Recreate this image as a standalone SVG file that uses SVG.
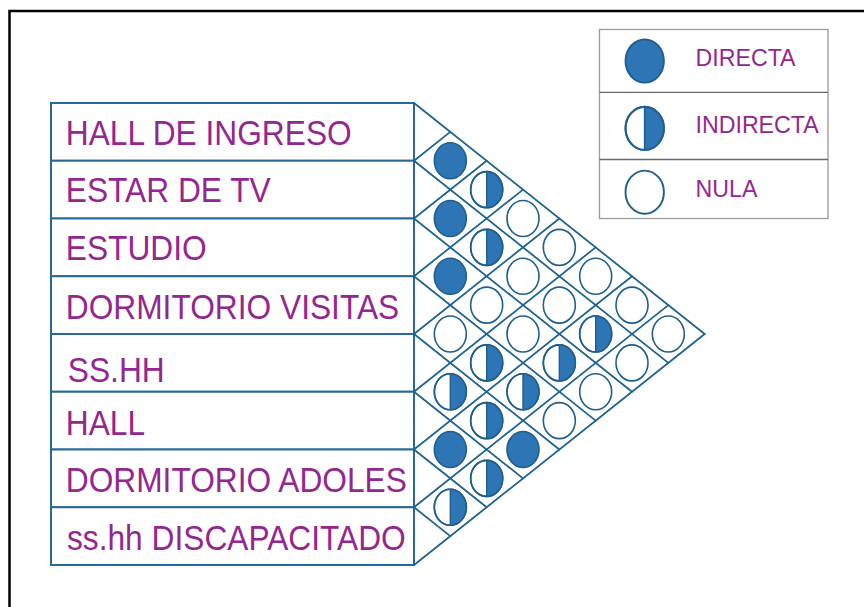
<svg xmlns="http://www.w3.org/2000/svg" xmlns:xlink="http://www.w3.org/1999/xlink" width="864" height="607" viewBox="0 0 864 607">
<style>
.frame{fill:none;stroke:#000;stroke-width:2.5}
.row rect{fill:#fff;stroke:#2a6896;stroke-width:2}
.lbl{font-family:"Liberation Sans",Arial,sans-serif;font-size:31.7px;fill:#93278f}
.leg{font-family:"Liberation Sans",Arial,sans-serif;font-size:23.2px;fill:#93278f}
.grid line{stroke:#1f6391;stroke-width:1.8;stroke-linecap:round}
.legbox{fill:#fff;stroke:#9a9a9a;stroke-width:1.3}
.c-out{fill:#fff;stroke:#1f5f8e;stroke-width:1.6}
.c-fill{fill:#2e75b6;stroke:#1f5f8e;stroke-width:1.6}
.c-half{fill:#2e75b6;stroke:none}
.c-mid{stroke:#1f5f8e;stroke-width:1.4}
</style>
<defs>
<g id="full"><ellipse class="c-fill" cx="0" cy="0" rx="16" ry="18"/></g>
<g id="half"><ellipse class="c-out" cx="0" cy="0" rx="16" ry="18"/><path class="c-half" d="M0,-18 A16,18 0 0 1 0,18 Z"/><ellipse cx="0" cy="0" rx="16" ry="18" fill="none" stroke="#1f5f8e" stroke-width="1.6"/><line class="c-mid" x1="0" y1="-18" x2="0" y2="18"/></g>
<g id="none"><ellipse class="c-out" cx="0" cy="0" rx="16" ry="18"/></g>
</defs>
<path class="frame" d="M9.5,607 V11 H870"/>
<g id="legend">
<rect class="legbox" x="599.5" y="29.5" width="228.5" height="189"/>
<line x1="599.5" y1="92.3" x2="828" y2="92.3" stroke="#6a6a6a" stroke-width="1.3"/>
<line x1="599.5" y1="159.5" x2="828" y2="159.5" stroke="#6a6a6a" stroke-width="1.3"/>
<use xlink:href="#full" transform="translate(644.7,61) scale(1.2)"/>
<use xlink:href="#half" transform="translate(644.7,128.3) scale(1.2)"/>
<use xlink:href="#none" transform="translate(644.7,192.2) scale(1.2)"/>
<text class="leg" x="695.5" y="66">DIRECTA</text>
<text class="leg" x="695.5" y="133.3">INDIRECTA</text>
<text class="leg" x="695.5" y="196.7">NULA</text>
</g>
<g id="row1" class="row"><rect x="51" y="103" width="363" height="57.75"/><text class="lbl" transform="translate(65.8,145) scale(1,1.1)">HALL DE INGRESO</text></g>
<g id="row2" class="row"><rect x="51" y="160.75" width="363" height="57.75"/><text class="lbl" transform="translate(65.8,202) scale(1,1.1)">ESTAR DE TV</text></g>
<g id="row3" class="row"><rect x="51" y="218.5" width="363" height="57.75"/><text class="lbl" transform="translate(65.8,260) scale(1,1.1)">ESTUDIO</text></g>
<g id="row4" class="row"><rect x="51" y="276.25" width="363" height="57.75"/><text class="lbl" transform="translate(65.8,319) scale(1,1.1)">DORMITORIO VISITAS</text></g>
<g id="row5" class="row"><rect x="51" y="334" width="363" height="57.75"/><text class="lbl" transform="translate(67.8,382) scale(1,1.1)">SS.HH</text></g>
<g id="row6" class="row"><rect x="51" y="391.75" width="363" height="57.75"/><text class="lbl" transform="translate(65.8,435) scale(1,1.1)">HALL</text></g>
<g id="row7" class="row"><rect x="51" y="449.5" width="363" height="57.75"/><text class="lbl" transform="translate(65.8,492) scale(1,1.1)">DORMITORIO ADOLES</text></g>
<g id="row8" class="row"><rect x="51" y="507.25" width="363" height="57.75"/><text class="lbl" transform="translate(67,550) scale(1,1.1)">ss.hh DISCAPACITADO</text></g>
<g id="connectors" class="grid">
<line x1="414" y1="103" x2="704.67" y2="334"/>
<line x1="414" y1="160.75" x2="668.33" y2="362.875"/>
<line x1="414" y1="218.5" x2="632" y2="391.75"/>
<line x1="414" y1="276.25" x2="595.67" y2="420.625"/>
<line x1="414" y1="334" x2="559.33" y2="449.5"/>
<line x1="414" y1="391.75" x2="523" y2="478.375"/>
<line x1="414" y1="449.5" x2="486.67" y2="507.25"/>
<line x1="414" y1="507.25" x2="450.33" y2="536.125"/>
<line x1="414" y1="565" x2="704.67" y2="334"/>
<line x1="414" y1="507.25" x2="668.33" y2="305.125"/>
<line x1="414" y1="449.5" x2="632" y2="276.25"/>
<line x1="414" y1="391.75" x2="595.67" y2="247.375"/>
<line x1="414" y1="334" x2="559.33" y2="218.5"/>
<line x1="414" y1="276.25" x2="523" y2="189.625"/>
<line x1="414" y1="218.5" x2="486.67" y2="160.75"/>
<line x1="414" y1="160.75" x2="450.33" y2="131.875"/>
</g>
<g id="cells">
<use xlink:href="#full" x="450.33" y="160.75"/>
<use xlink:href="#full" x="450.33" y="218.5"/>
<use xlink:href="#full" x="450.33" y="276.25"/>
<use xlink:href="#none" x="450.33" y="334"/>
<use xlink:href="#half" x="450.33" y="391.75"/>
<use xlink:href="#full" x="450.33" y="449.5"/>
<use xlink:href="#half" x="450.33" y="507.25"/>
<use xlink:href="#half" x="486.67" y="189.625"/>
<use xlink:href="#half" x="486.67" y="247.375"/>
<use xlink:href="#none" x="486.67" y="305.125"/>
<use xlink:href="#half" x="486.67" y="362.875"/>
<use xlink:href="#half" x="486.67" y="420.625"/>
<use xlink:href="#half" x="486.67" y="478.375"/>
<use xlink:href="#none" x="523" y="218.5"/>
<use xlink:href="#none" x="523" y="276.25"/>
<use xlink:href="#none" x="523" y="334"/>
<use xlink:href="#half" x="523" y="391.75"/>
<use xlink:href="#full" x="523" y="449.5"/>
<use xlink:href="#none" x="559.33" y="247.375"/>
<use xlink:href="#none" x="559.33" y="305.125"/>
<use xlink:href="#half" x="559.33" y="362.875"/>
<use xlink:href="#none" x="559.33" y="420.625"/>
<use xlink:href="#none" x="595.67" y="276.25"/>
<use xlink:href="#half" x="595.67" y="334"/>
<use xlink:href="#none" x="595.67" y="391.75"/>
<use xlink:href="#none" x="632" y="305.125"/>
<use xlink:href="#none" x="632" y="362.875"/>
<use xlink:href="#none" x="668.33" y="334"/>
</g>
</svg>
